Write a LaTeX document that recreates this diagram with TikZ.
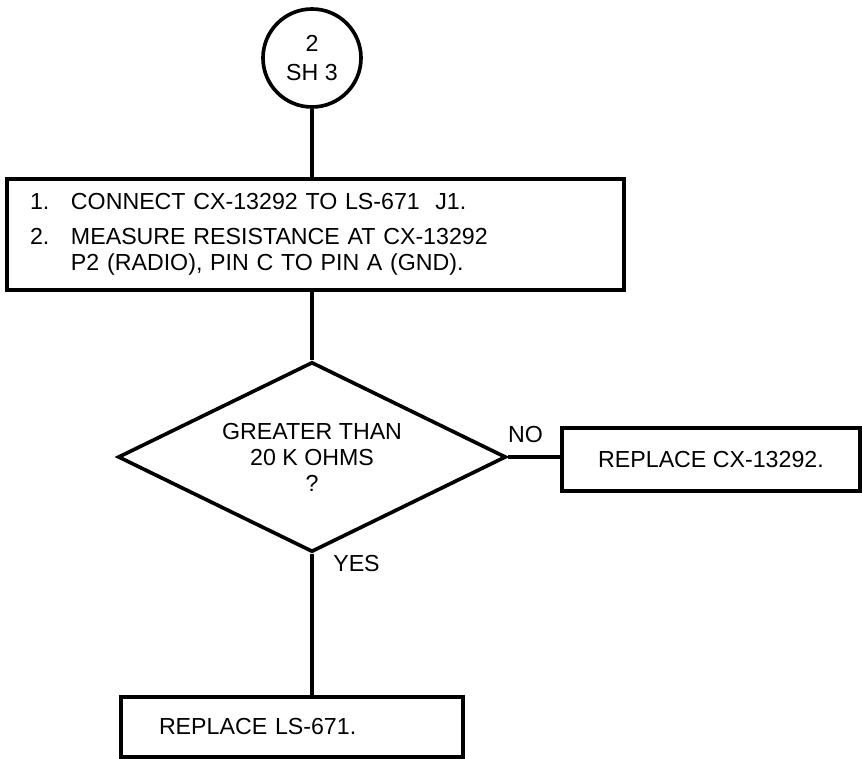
\documentclass[tikz,border=0pt]{standalone}
\usepackage{fontspec}
\setmainfont{Liberation Sans}
\usetikzlibrary{positioning,shapes.geometric}

\tikzset{
  flowline/.style={line width=2.6pt},
  flowbox/.style={draw, rectangle, flowline, inner sep=0pt},
  flowlabel/.style={inner sep=0pt},
}

\begin{document}
\begin{tikzpicture}[font=\fontsize{16.5}{18.5}\selectfont]
			\useasboundingbox (0,0) rectangle (21.55,-18.975);

			\node[draw, circle, flowline, minimum size=2.45cm, inner sep=0pt, align=center] (start) at (7.8,-1.45) {2\\[2pt]SH 3};

			\node[flowbox, minimum width=15.425cm, minimum height=2.775cm, text width=14.275cm, inner xsep=0.575cm, align=left] (steps) at (7.8875,-5.8625) {%
				\makebox[1.025cm][l]{1.}CONNECT CX-13292 TO LS-671\ \ J1.\\[6.4pt]
				\makebox[1.025cm][l]{2.}MEASURE RESISTANCE AT CX-13292\\
				\hspace*{1.025cm}P2 (RADIO), PIN C TO PIN A (GND).};

			\node[draw, diamond, aspect=2.04, flowline, minimum width=9.7cm, minimum height=4.75cm, inner sep=0pt, align=center] (test) at (7.8,-11.425) {GREATER THAN\\20 K OHMS\\?};

			\node[flowbox, minimum width=7.45cm, minimum height=1.575cm] (fixA) at (17.775,-11.4875) {REPLACE CX-13292.};
			\node[flowbox, minimum width=8.55cm, minimum height=1.5cm, text width=6.65cm, inner xsep=0.95cm, align=left] (fixB) at (7.3,-18.175) {REPLACE LS-671.};

			\node[flowlabel, above right=0.34cm and 0cm of test.east] (no) {NO};
			\node[flowlabel, below right=0.04cm and 0.525cm of test.south] (yes) {YES};

			\draw[flowline] (start) -- (start |- steps.north);
			\draw[flowline] (steps.south -| start) -- (test.north);
			\draw[flowline] (test.east) -- (test.east -| fixA.west);
			\draw[flowline] (test.south) -- (test.south |- fixB.north);
		\end{tikzpicture}
\end{document}
